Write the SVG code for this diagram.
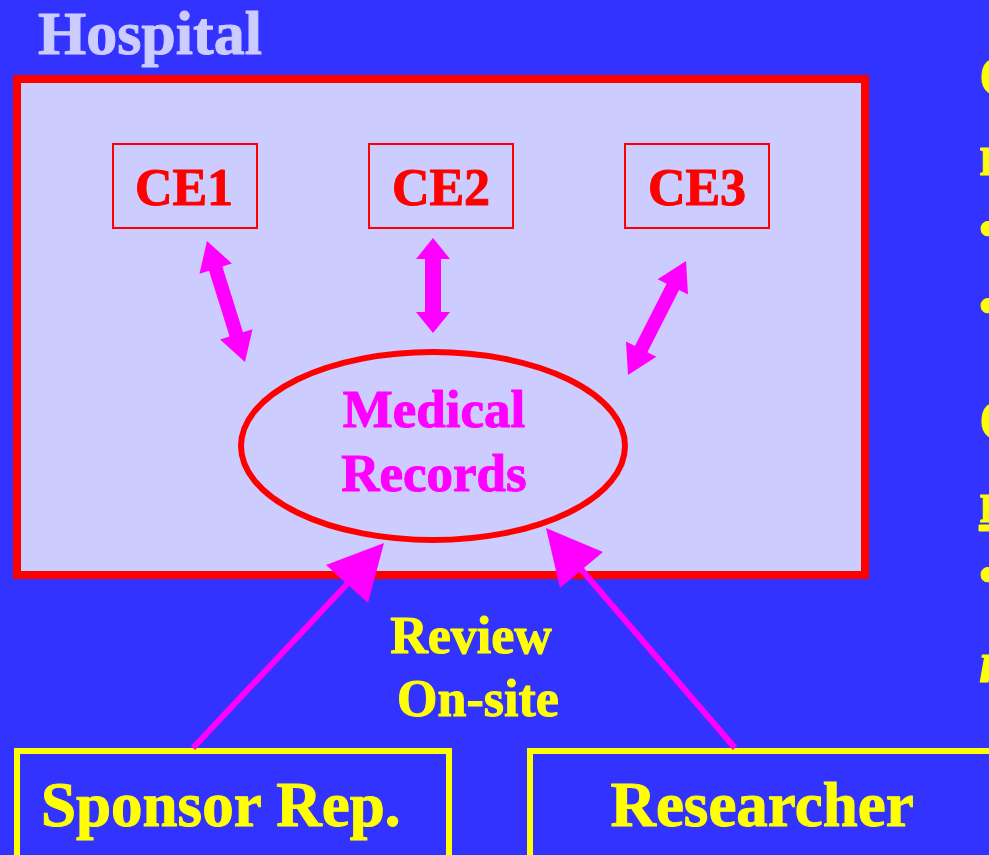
<svg xmlns="http://www.w3.org/2000/svg" width="989" height="855" viewBox="0 0 989 855">
<style>
text{font-family:"Liberation Serif","Times New Roman",serif;font-weight:bold;stroke-width:1;stroke-linejoin:round}
.ce{fill:none;stroke:#FF0000;stroke-width:2}
.cet{fill:#FF0000;stroke:#FF0000;font-size:52px;text-anchor:middle}
.mag{fill:#FF00FF}
text.mag{stroke:#FF00FF}
.yl{fill:#FFFF00}
text.yl{stroke:#FFFF00}
.ybox{fill:#3333FF;stroke:#FFFF00;stroke-width:6}
.conn{stroke:#FF00FF;stroke-width:6;fill:none}
</style>
<rect x="0" y="0" width="989" height="855" fill="#3333FF"/>
<g id="hospital">
<text x="38" y="54" font-size="62" fill="#CCCCFF" stroke="#CCCCFF">Hospital</text>
<rect x="17" y="79" width="848" height="496" fill="#CCCCFF" stroke="#FF0000" stroke-width="8"/>
</g>
<g id="ce1"><rect class="ce" x="113" y="144" width="144" height="84"/><text class="cet" x="184" y="205">CE1</text></g>
<g id="ce2"><rect class="ce" x="369" y="144" width="144" height="84"/><text class="cet" x="441" y="205">CE2</text></g>
<g id="ce3"><rect class="ce" x="625" y="144" width="144" height="84"/><text class="cet" x="697" y="205">CE3</text></g>
<g id="records">
<ellipse cx="433" cy="446" rx="192" ry="94" fill="none" stroke="#FF0000" stroke-width="6"/>
<text class="mag" x="434" y="427" font-size="53" text-anchor="middle">Medical</text>
<text class="mag" x="434" y="491" font-size="53" text-anchor="middle">Records</text>
</g>
<g id="sponsor"><rect class="ybox" x="17" y="751" width="432" height="120"/><text class="yl" x="41" y="826" font-size="63">Sponsor Rep.</text></g>
<g id="researcher"><rect class="ybox" x="530" y="751" width="500" height="120"/><text class="yl" x="762" y="826" font-size="63" text-anchor="middle">Researcher</text></g>
<g id="connectors">
<g class="mag">
<polygon transform="translate(207,241) rotate(72.57)" points="0,0 29,-17 29,-7 97.8,-7 97.8,-17 126.8,0 97.8,17 97.8,7 29,7 29,17"/>
<polygon transform="translate(433,238) rotate(90)" points="0,0 21,-17 21,-8 74,-8 74,-17 95,0 74,17 74,8 21,8 21,17"/>
<polygon transform="translate(686,261) rotate(116.96)" points="0,0 29,-17 29,-7 98.9,-7 98.9,-17 127.9,0 98.9,17 98.9,7 29,7 29,17"/>
</g>
<line class="conn" x1="193" y1="748" x2="349" y2="582"/>
<polygon class="mag" points="384,543 326,565 368,603"/>
<line class="conn" x1="735" y1="748" x2="580" y2="568"/>
<polygon class="mag" points="546,528 603,552 560,588"/>
<text class="yl" x="471" y="653" font-size="52" text-anchor="middle">Review</text>
<text class="yl" x="478" y="716" font-size="52" text-anchor="middle">On-site</text>
</g>
<g id="side-text">
<text class="yl" x="979" y="96" font-size="60">C</text>
<text class="yl" x="979" y="175" font-size="60">n</text>
<text class="yl" x="979" y="246" font-size="52">•</text>
<text class="yl" x="979" y="323" font-size="52">•</text>
<text class="yl" x="979" y="440" font-size="60">C</text>
<text class="yl" x="979" y="522" font-size="60" text-decoration="underline">n</text>
<text class="yl" x="979" y="592" font-size="52">•</text>
<text class="yl" x="979" y="682" font-size="60" font-style="italic">n</text>
</g>
</svg>
